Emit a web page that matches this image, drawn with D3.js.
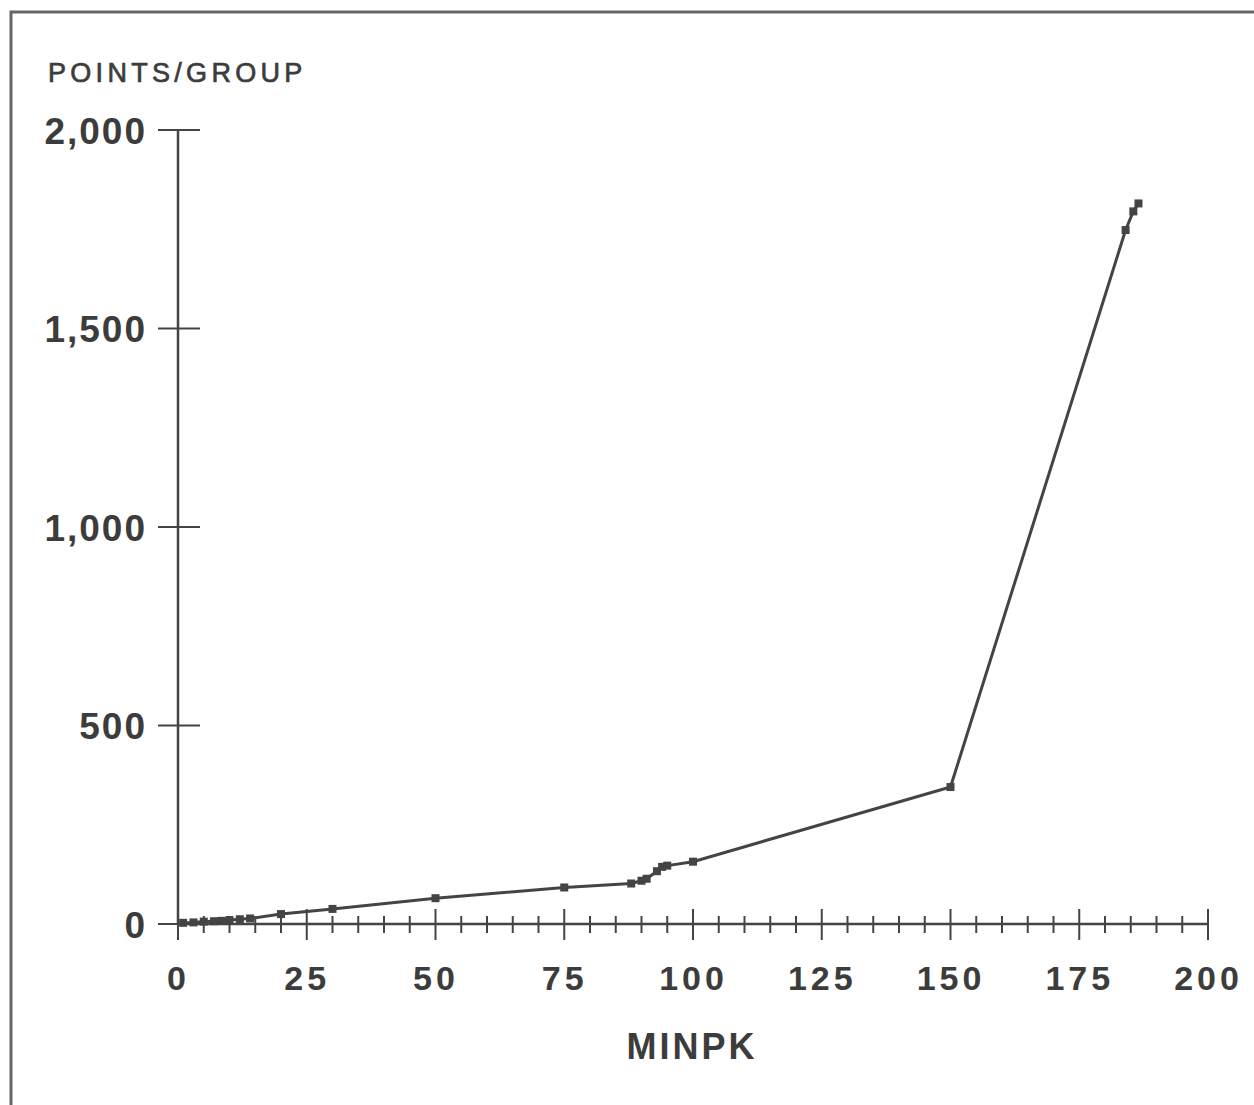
<!DOCTYPE html>
<html>
<head>
<meta charset="utf-8">
<script src="https://cdn.jsdelivr.net/npm/d3@7"></script>
<style>
  html, body { margin: 0; padding: 0; background: #fff; }
  svg text { font-family: "Liberation Sans", Arial, sans-serif; fill: #3c3c3c; }
</style>
</head>
<body>
<div id="chart"></div>
<script>
// values
const minpk = [1, 3, 5, 7, 8.5, 10, 12, 14, 20, 30, 50, 75, 88, 90, 91, 93, 94, 95, 100, 150, 184, 185.5, 186.5];
const pointsPerGroup = [3, 4, 6, 7, 8, 10, 12, 14, 25, 38, 65, 92, 102, 109, 114, 133, 144, 147, 157, 345, 1748, 1795, 1815];
const xTicks = [0, 25, 50, 75, 100, 125, 150, 175, 200];
const yTicks = [0, 500, 1000, 1500, 2000];

const width = 1254, height = 1105;
const ink = "#444";

const svg = d3.select("#chart").append("svg")
  .attr("width", width)
  .attr("height", height);

// frame (top + left edge of the scanned page)
svg.append("path")
  .attr("d", `M11,${height} L11,12 L${width},12`)
  .attr("fill", "none")
  .attr("stroke", "#666")
  .attr("stroke-width", 3);

const x = d3.scaleLinear().domain([0, 200]).range([178, 1208]);
const y = d3.scaleLinear().domain([0, 2000]).range([924, 130]);

const data = minpk.map((m, i) => ({ m, p: pointsPerGroup[i] }));

// y axis
const yAxis = d3.axisLeft(y)
  .tickValues(yTicks)
  .tickSize(0)
  .tickFormat(d3.format(","));
const yg = svg.append("g").attr("transform", `translate(${x(0)},0)`).call(yAxis);
yg.select(".domain").remove();
yg.selectAll("text")
  .attr("x", -31)
  .attr("dy", "0.36em")
  .style("font-size", "37px")
  .style("font-weight", "bold")
  .style("letter-spacing", "2px");
svg.append("line")
  .attr("x1", x(0)).attr("x2", x(0))
  .attr("y1", y(2000)).attr("y2", y(0))
  .attr("stroke", ink).attr("stroke-width", 2.5);
svg.selectAll(".ytick").data(yTicks).join("line")
  .attr("class", "ytick")
  .attr("x1", x(0) - 20).attr("x2", x(0) + 22)
  .attr("y1", d => y(d)).attr("y2", d => y(d))
  .attr("stroke", ink).attr("stroke-width", 2.2);

// x axis
svg.append("line")
  .attr("x1", x(0)).attr("x2", x(200))
  .attr("y1", y(0)).attr("y2", y(0))
  .attr("stroke", ink).attr("stroke-width", 2.5);
const minor = d3.range(0, 201, 5);
svg.selectAll(".xtick").data(minor).join("line")
  .attr("class", "xtick")
  .attr("x1", d => x(d)).attr("x2", d => x(d))
  .attr("y1", d => y(0) - (d % 25 === 0 ? 15 : 8))
  .attr("y2", d => y(0) + (d % 25 === 0 ? 16 : 9))
  .attr("stroke", ink).attr("stroke-width", 2);

const xAxis = d3.axisBottom(x).tickValues(xTicks).tickSize(0);
const xg = svg.append("g").attr("transform", `translate(0,${y(0)})`).call(xAxis);
xg.select(".domain").remove();
xg.selectAll("text")
  .attr("y", 66)
  .attr("dy", 0)
  .style("font-size", "34px")
  .style("font-weight", "bold")
  .style("letter-spacing", "4px");

// axis titles
svg.append("text")
  .attr("x", 48).attr("y", 82)
  .style("font-size", "27px")
  .style("letter-spacing", "4.3px")
  .style("stroke", "#3c3c3c").style("stroke-width", 0.7)
  .text("POINTS/GROUP");

svg.append("text")
  .attr("x", 692).attr("y", 1059)
  .attr("text-anchor", "middle")
  .style("font-size", "36px")
  .style("font-weight", "bold")
  .style("letter-spacing", "3px")
  .text("MINPK");

// data line + markers
const line = d3.line().x(d => x(d.m)).y(d => y(d.p));
svg.append("path")
  .datum(data)
  .attr("fill", "none")
  .attr("stroke", ink)
  .attr("stroke-width", 3)
  .attr("d", line);

svg.selectAll(".pt").data(data).join("rect")
  .attr("class", "pt")
  .attr("x", d => x(d.m) - 4)
  .attr("y", d => y(d.p) - 4)
  .attr("width", 8).attr("height", 8)
  .attr("fill", ink);
</script>
</body>
</html>
